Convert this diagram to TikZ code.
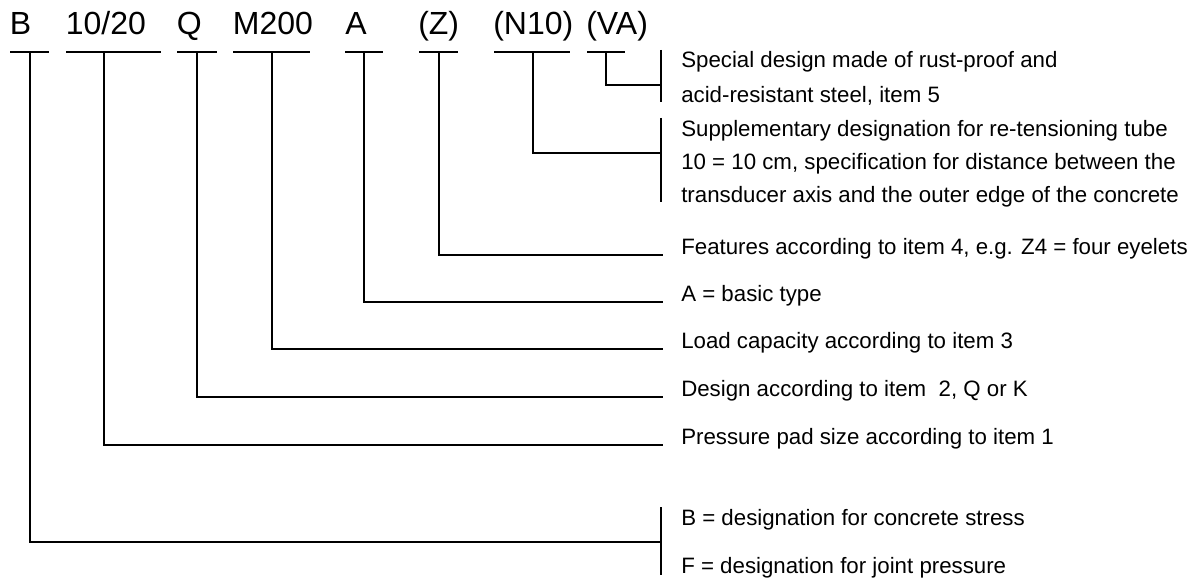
\documentclass[tikz,border=0pt]{standalone}
\usepackage{fontspec}
\setmainfont{Liberation Sans}
\begin{document}
\begin{tikzpicture}[x=0.75pt,y=-0.75pt,
  code/.style={anchor=base west,inner sep=0pt,font=\fontsize{24}{28}\selectfont},
  desc/.style={anchor=base west,inner sep=0pt,font=\fontsize{16.7}{20}\selectfont},
  bar/.style={line width=2pt},
  leader/.style={line width=1.5pt},
  brace/.style={line width=1.5pt}]
\useasboundingbox (0,0) rectangle (1195,580);
% code labels
\node[code] (cB)   at (9.7,35)  {B};
\node[code] (cSz)  at (65.6,35) {10/20};
\node[code] (cQ)   at (176.5,35){Q};
\node[code] (cM)   at (232.7,35){M200};
\node[code] (cA)   at (345,35)  {A};
\node[code] (cZ)   at (418,35)  {(Z)};
\node[code] (cN)   at (493,35)  {(N10)};
\node[code] (cVA)  at (586,35)  {(VA)};
% bars under labels
\draw[bar] (10,52) -- (49,52);
\draw[bar] (66,52) -- (161,52);
\draw[bar] (177,52) -- (217,52);
\draw[bar] (233,52) -- (310,52);
\draw[bar] (345,52) -- (383,52);
\draw[bar] (419,52) -- (458,52);
\draw[bar] (494,52) -- (570,52);
\draw[bar] (587,52) -- (625,52);
% descriptions
\node[desc] (dVA1) at (681,68)  {Special design made of rust-proof and};
\node[desc] (dVA2) at (681,103) {acid-resistant steel, item 5};
\node[desc] (dN1)  at (681,137) {Supplementary designation for re-tensioning tube};
\node[desc] (dN2)  at (681,170) {10 = 10 cm, specification for distance between the};
\node[desc] (dN3)  at (681,203) {transducer axis and the outer edge of the concrete};
\node[desc] (dZ)   at (681,255) {Features according to item 4, e.g. Z4 = four eyelets};
\node[desc] (dA)   at (681,302) {A = basic type};
\node[desc] (dM)   at (681,349) {Load capacity according to item 3};
\node[desc] (dQ)   at (681,397) {Design according to item\ \ 2, Q or K};
\node[desc] (dSz)  at (681,445) {Pressure pad size according to item 1};
\node[desc] (dB1)  at (681,525) {B = designation for concrete stress};
\node[desc] (dB2)  at (681,573) {F = designation for joint pressure};
% connector end points
\coordinate (eVA) at (661,85);
\coordinate (eN)  at (661,153);
\coordinate (eZ)  at (663,255);
\coordinate (eA)  at (663,302);
\coordinate (eM)  at (663,349);
\coordinate (eQ)  at (663,397);
\coordinate (eSz) at (663,445);
\coordinate (eB)  at (661,542);
% leaders
\draw[leader] (606,52) |- (eVA);
\draw[leader] (533,52) |- (eN);
\draw[leader] (439,52) |- (eZ);
\draw[leader] (364,52) |- (eA);
\draw[leader] (272,52) |- (eM);
\draw[leader] (197,52) |- (eQ);
\draw[leader] (104,52) |- (eSz);
\draw[leader] (30,52)  |- (eB);
% brackets
\draw[brace] (661,50) -- (661,102);
\draw[brace] (661,118) -- (661,202);
\draw[brace] (661,507) -- (661,575);
\end{tikzpicture}
\end{document}
